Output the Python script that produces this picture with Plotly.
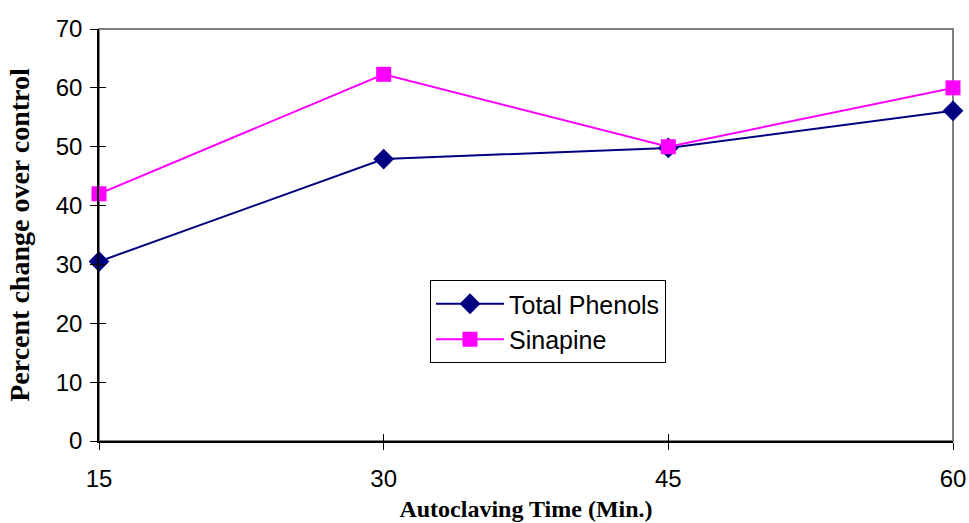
import plotly.graph_objects as go

# Autoclaving time (minutes) and percent change over control
times = [15, 30, 45, 60]
total_phenols = [30.5, 47.9, 49.8, 56.1]
sinapine = [42.0, 62.3, 50.0, 60.0]
y_ticks = [0, 10, 20, 30, 40, 50, 60, 70]

NAVY = "#000080"
MAGENTA = "#FF00FF"

fig = go.Figure()
fig.add_trace(go.Scatter(
    x=times, y=total_phenols, name="Total Phenols", mode="lines+markers",
    line=dict(color=NAVY, width=2),
    marker=dict(symbol="diamond", size=16, color=NAVY),
    cliponaxis=False,
))
fig.add_trace(go.Scatter(
    x=times, y=sinapine, name="Sinapine", mode="lines+markers",
    line=dict(color=MAGENTA, width=2),
    marker=dict(symbol="square", size=15, color=MAGENTA),
    cliponaxis=False,
))
# helper trace so the inner tick axes get drawn
fig.add_trace(go.Scatter(x=[times[0]], y=[y_ticks[0]], xaxis="x2", yaxis="y2",
                         mode="markers", marker=dict(opacity=0), showlegend=False,
                         hoverinfo="skip"))

tick_font = dict(family="Liberation Sans, Arial, sans-serif", size=24, color="black")

fig.update_layout(
    width=969, height=523,
    margin=dict(l=99, r=16, t=29, b=82),
    paper_bgcolor="white", plot_bgcolor="white",
    showlegend=True,
    legend=dict(
        x=(430 - 99) / 854, y=(441 - 280) / 412, xanchor="left", yanchor="top",
        bordercolor="black", borderwidth=1, bgcolor="white",
        font=dict(family="Liberation Sans, Arial, sans-serif", size=25, color="black"),
        tracegroupgap=0, itemwidth=68,
    ),
    xaxis=dict(
        range=[15, 60], tickvals=times, ticktext=[str(t) for t in times],
        showgrid=False, zeroline=False, automargin=False,
        showline=True, linecolor="black", linewidth=1.5,
        ticks="outside", ticklen=7, tickcolor="black",
        tickfont=tick_font, ticklabelstandoff=8,
        title=dict(text="<b>Autoclaving Time (Min.)</b>",
                   font=dict(family="Liberation Serif, Times New Roman, serif", size=24, color="black"),
                   standoff=10),
    ),
    yaxis=dict(
        range=[0, 70], tickvals=y_ticks,
        showgrid=False, zeroline=False, automargin=False,
        showline=True, linecolor="black", linewidth=1.5,
        ticks="outside", ticklen=7, tickcolor="black",
        tickfont=tick_font, ticklabelstandoff=3,
        title=dict(text="<b>Percent change over control</b>",
                   font=dict(family="Liberation Serif, Times New Roman, serif", size=28, color="black"),
                   standoff=18),
    ),
    xaxis2=dict(
        overlaying="x", anchor="y", side="bottom", range=[15, 60], tickvals=times,
        showticklabels=False, showgrid=False, zeroline=False, showline=False,
        ticks="inside", ticklen=7, tickcolor="black", automargin=False,
    ),
    yaxis2=dict(
        overlaying="y", anchor="x", side="left", range=[0, 70], tickvals=y_ticks,
        showticklabels=False, showgrid=False, zeroline=False, showline=False,
        ticks="inside", ticklen=7, tickcolor="black", automargin=False,
    ),
    shapes=[dict(
        type="rect", xref="x domain", yref="y domain", x0=0, x1=1, y0=0, y1=1,
        line=dict(color="#808080", width=2), layer="below",
    )],
)

fig.write_html("out.html")
